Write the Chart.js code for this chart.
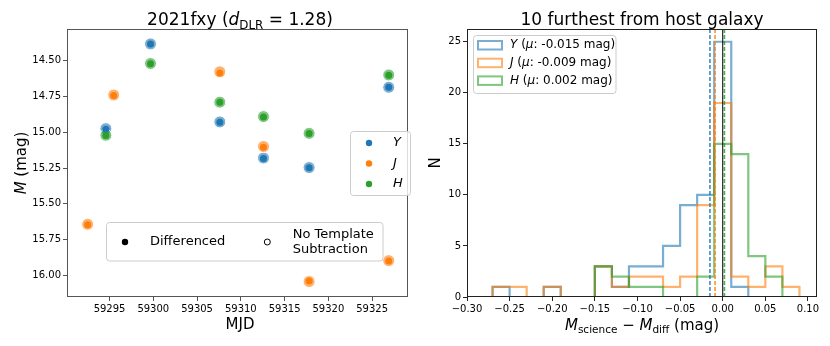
<!DOCTYPE html>
<html>
<head>
<meta charset="utf-8">
<script src="https://cdn.jsdelivr.net/npm/chart.js@4"></script>
<style>
  body { margin: 0; background: #fff; }
  #wrap { position: relative; width: 830px; height: 346px; }
  canvas { position: absolute; top: 0; }
</style>
</head>
<body>
<div id="wrap">
  <canvas id="lc" width="415" height="346" style="left:0"></canvas>
  <canvas id="hc" width="415" height="346" style="left:415px"></canvas>
</div>
<script>
// light curve of 2021fxy
var mjdY = [59294.58, 59299.68, 59307.60, 59312.59, 59317.80, 59326.90];
var mjdJ = [59292.50, 59295.48, 59307.60, 59312.59, 59317.80, 59326.90];
var mjdH = [59294.58, 59299.68, 59307.60, 59312.59, 59317.80, 59326.90];
var diffY = [14.980, 14.383, 14.930, 15.184, 15.249, 14.686];
var diffJ = [15.647, 14.744, 14.586, 15.105, 16.040, 15.900];
var diffH = [15.023, 14.521, 14.791, 14.893, 15.009, 14.602];
var noTmplY = [14.975, 14.383, 14.928, 15.180, 15.247, 14.686];
var noTmplJ = [15.643, 14.740, 14.578, 15.100, 16.043, 15.897];
var noTmplH = [15.021, 14.520, 14.790, 14.891, 15.008, 14.600];
var mjdTicks = [59295, 59300, 59305, 59310, 59315, 59320, 59325];
var magTicks = [14.50, 14.75, 15.00, 15.25, 15.50, 15.75, 16.00];

// histogram of M_science - M_diff, bins of 0.02 mag
var binEdges = [-0.31, -0.29, -0.27, -0.25, -0.23, -0.21, -0.19, -0.17, -0.15, -0.13, -0.11,
                -0.09, -0.07, -0.05, -0.03, -0.01, 0.01, 0.03, 0.05, 0.07, 0.09, 0.11];
var countsY = [0, 0, 1, 0, 0, 1, 0, 0, 3, 1, 3, 3, 5, 9, 10, 25, 1, 0, 0, 0, 0];
var countsJ = [0, 0, 1, 1, 0, 1, 0, 0, 3, 1, 2, 2, 1, 2, 9, 19, 2, 1, 3, 1, 0];
var countsH = [0, 0, 0, 0, 0, 0, 0, 0, 3, 2, 1, 1, 0, 0, 2, 15, 14, 4, 2, 0, 0];
var bandNames = ['Y', 'J', 'H'];
var meanMag = [-0.015, -0.009, 0.002];
var diffTicks = [-0.30, -0.25, -0.20, -0.15, -0.10, -0.05, 0.00, 0.05, 0.10];
var nTicks = [0, 5, 10, 15, 20, 25];

var FONT = '"DejaVu Sans"';
var C = ['#1f77b4', '#ff7f0e', '#2ca02c'];
var CA = ['rgba(31,119,180,0.6)', 'rgba(255,127,14,0.6)', 'rgba(44,160,44,0.6)'];

function pts(xs, ys) {
    return xs.map(function (x, i) { return { x: x, y: ys[i] }; });
}

// text with italic parts and subscripts
function drawRich(ctx, parts, x, y, size, align) {
    var w = 0;
    parts.forEach(function (p) {
        ctx.font = (p.it ? 'italic ' : '') + (p.sub ? size * 0.7 : size) + 'px ' + FONT;
        p.w = ctx.measureText(p.t).width;
        w += p.w;
    });
    var cx = align === 'center' ? x - w / 2 : x;
    parts.forEach(function (p) {
        ctx.font = (p.it ? 'italic ' : '') + (p.sub ? size * 0.7 : size) + 'px ' + FONT;
        ctx.fillText(p.t, cx, y + (p.sub ? size * 0.22 : 0));
        cx += p.w;
    });
}

function legendBox(ctx, x, y, w, h) {
    ctx.save();
    ctx.beginPath();
    ctx.roundRect(x, y, w, h, 3);
    ctx.fillStyle = 'rgba(255,255,255,0.8)';
    ctx.fill();
    ctx.strokeStyle = '#cccccc';
    ctx.lineWidth = 1;
    ctx.stroke();
    ctx.restore();
}

function frame(chart, color) {
    var a = chart.chartArea, ctx = chart.ctx;
    ctx.save();
    ctx.strokeStyle = color;
    ctx.lineWidth = 1;
    ctx.strokeRect(Math.round(a.left) + 0.5, Math.round(a.top) + 0.5,
                   Math.round(a.right - a.left) - 1, Math.round(a.bottom - a.top) - 1);
    ctx.restore();
}

function axisX(min, max, ticks, fmt, h, col) {
    return {
        type: 'linear', min: min, max: max,
        afterBuildTicks: function (s) { s.ticks = ticks.map(function (v) { return { value: v }; }); },
        afterFit: function (s) { s.height = h; },
        ticks: { font: { family: 'DejaVu Sans', size: 10 }, color: '#000', padding: 2,
                 maxRotation: 0, autoSkip: false, callback: fmt },
        grid: { drawOnChartArea: false, drawTicks: true, tickLength: 4, color: col, lineWidth: 1 },
        border: { display: false }
    };
}

Chart.defaults.font.family = 'DejaVu Sans';

// ---------- left: light curve ----------
var lcSets = [];
[[mjdY, diffY], [mjdJ, diffJ], [mjdH, diffH]].forEach(function (d, i) {
    lcSets.push({ data: pts(d[0], d[1]), order: 2 - i, pointRadius: 3.5,
                  pointBackgroundColor: C[i], pointBorderWidth: 0, showLine: false });
});
[[mjdY, noTmplY], [mjdJ, noTmplJ], [mjdH, noTmplH]].forEach(function (d, i) {
    lcSets.push({ data: pts(d[0], d[1]), order: 5 - i, pointRadius: 6,
                  pointBackgroundColor: CA[i], pointBorderColor: '#fff', pointBorderWidth: 1, showLine: false });
});

var lcYScale = axisX(14.279, 16.151, magTicks, function (v) { return v.toFixed(2); }, 0, '#555');
delete lcYScale.afterFit;
lcYScale.reverse = true;
lcYScale.afterFit = function (s) { s.width = 67; };

new Chart(document.getElementById('lc'), {
    type: 'scatter',
    data: { datasets: lcSets },
    options: {
        responsive: false, animation: false, devicePixelRatio: 1,
        layout: { padding: { top: 29, right: 1, left: 0, bottom: 0 } },
        plugins: { legend: { display: false }, tooltip: { enabled: false } },
        scales: {
            x: axisX(59290.14, 59329.1, mjdTicks, function (v) { return String(v); }, 49, '#555'),
            y: lcYScale
        }
    },
    plugins: [{
        id: 'lcDeco',
        afterDraw: function (chart) {
            var ctx = chart.ctx;
            frame(chart, '#555');
            ctx.save();
            ctx.fillStyle = '#000';
            ctx.textBaseline = 'alphabetic';
            drawRich(ctx, [{ t: '2021fxy (' }, { t: 'd', it: true }, { t: 'DLR', sub: true }, { t: ' = 1.28)' }],
                     240, 25, 17, 'center');
            drawRich(ctx, [{ t: 'MJD' }], 240, 329, 15, 'center');
            ctx.save();
            ctx.translate(25.5, 163);
            ctx.rotate(-Math.PI / 2);
            drawRich(ctx, [{ t: 'M', it: true }, { t: ' (mag)' }], 0, 0, 15, 'center');
            ctx.restore();

            // band legend
            legendBox(ctx, 350.5, 131.5, 60, 64);
            var rows = [143, 163.5, 184];
            ctx.textBaseline = 'middle';
            bandNames.forEach(function (b, i) {
                ctx.beginPath();
                ctx.arc(369, rows[i], 3.2, 0, 2 * Math.PI);
                ctx.fillStyle = C[i];
                ctx.fill();
                ctx.fillStyle = '#000';
                ctx.font = 'italic 13px ' + FONT;
                ctx.fillText(b, 393, rows[i]);
            });

            // marker legend
            legendBox(ctx, 106.5, 222.5, 276.5, 38.5);
            ctx.beginPath();
            ctx.arc(125, 242, 3.2, 0, 2 * Math.PI);
            ctx.fillStyle = '#000';
            ctx.fill();
            ctx.beginPath();
            ctx.arc(267.3, 242, 3, 0, 2 * Math.PI);
            ctx.fillStyle = '#fff';
            ctx.fill();
            ctx.strokeStyle = '#000';
            ctx.lineWidth = 1;
            ctx.stroke();
            ctx.fillStyle = '#000';
            ctx.font = '13px ' + FONT;
            ctx.fillText('Differenced', 150, 242);
            ctx.fillText('No Template', 292.7, 234.5);
            ctx.fillText('Subtraction', 292.7, 249.5);
            ctx.restore();
        }
    }]
});

// ---------- right: histogram ----------
var yMax = 26.25;
var hSets = [];
[countsY, countsJ, countsH].forEach(function (cnt, i) {
    hSets.push({
        data: binEdges.map(function (e, k) { return { x: e, y: k < cnt.length ? cnt[k] : 0 }; }),
        stepped: 'before', borderColor: CA[i], borderWidth: 2.2, pointRadius: 0, fill: false, order: 4 - i
    });
});
meanMag.forEach(function (m, i) {
    hSets.push({ data: [{ x: m, y: 0 }, { x: m, y: yMax }], borderColor: CA[i].replace('0.6', '0.85'),
                 borderWidth: 1.6, borderDash: [4, 2], pointRadius: 0, fill: false, order: 1 });
});
hSets.push({ data: [{ x: 0, y: 0 }, { x: 0, y: yMax }], borderColor: '#000', borderWidth: 1,
             pointRadius: 0, fill: false, order: 0 });

var hYScale = axisX(0, yMax, nTicks, function (v) { return String(v); }, 0, '#222');
delete hYScale.afterFit;
hYScale.afterFit = function (s) { s.width = 52; };

new Chart(document.getElementById('hc'), {
    type: 'line',
    data: { datasets: hSets },
    options: {
        responsive: false, animation: false, devicePixelRatio: 1,
        layout: { padding: { top: 29, right: 13, left: 0, bottom: 0 } },
        plugins: { legend: { display: false }, tooltip: { enabled: false } },
        scales: {
            x: axisX(-0.30, 0.1106, diffTicks, function (v) {
                return (v < -1e-9 ? '\u2212' : '') + Math.abs(v).toFixed(2);
            }, 49, '#222'),
            y: hYScale
        }
    },
    plugins: [{
        id: 'hDeco',
        afterDraw: function (chart) {
            var ctx = chart.ctx;
            frame(chart, '#222');
            ctx.save();
            ctx.fillStyle = '#000';
            ctx.textBaseline = 'alphabetic';
            drawRich(ctx, [{ t: '10 furthest from host galaxy' }], 227, 24.5, 17, 'center');
            drawRich(ctx, [{ t: 'M', it: true }, { t: 'science', sub: true }, { t: ' \u2212 ' },
                           { t: 'M', it: true }, { t: 'diff', sub: true }, { t: ' (mag)' }],
                     227, 329.5, 15, 'center');
            ctx.save();
            ctx.translate(25, 163);
            ctx.rotate(-Math.PI / 2);
            drawRich(ctx, [{ t: 'N' }], 0, 0, 15, 'center');
            ctx.restore();

            legendBox(ctx, 58.5, 35.5, 142.5, 58);
            var rows = [45, 62.7, 80.4];
            ctx.textBaseline = 'middle';
            bandNames.forEach(function (b, i) {
                ctx.strokeStyle = CA[i];
                ctx.lineWidth = 2;
                ctx.strokeRect(63, rows[i] - 4, 24, 8.5);
                ctx.fillStyle = '#000';
                var mu = (meanMag[i] < 0 ? '-' : '') + Math.abs(meanMag[i]).toFixed(3);
                drawRich(ctx, [{ t: b, it: true }, { t: ' (' }, { t: '\u03bc', it: true },
                               { t: ': ' + mu + ' mag)' }], 95, rows[i], 12, 'left');
            });
            ctx.restore();
        }
    }]
});
</script>
</body>
</html>
